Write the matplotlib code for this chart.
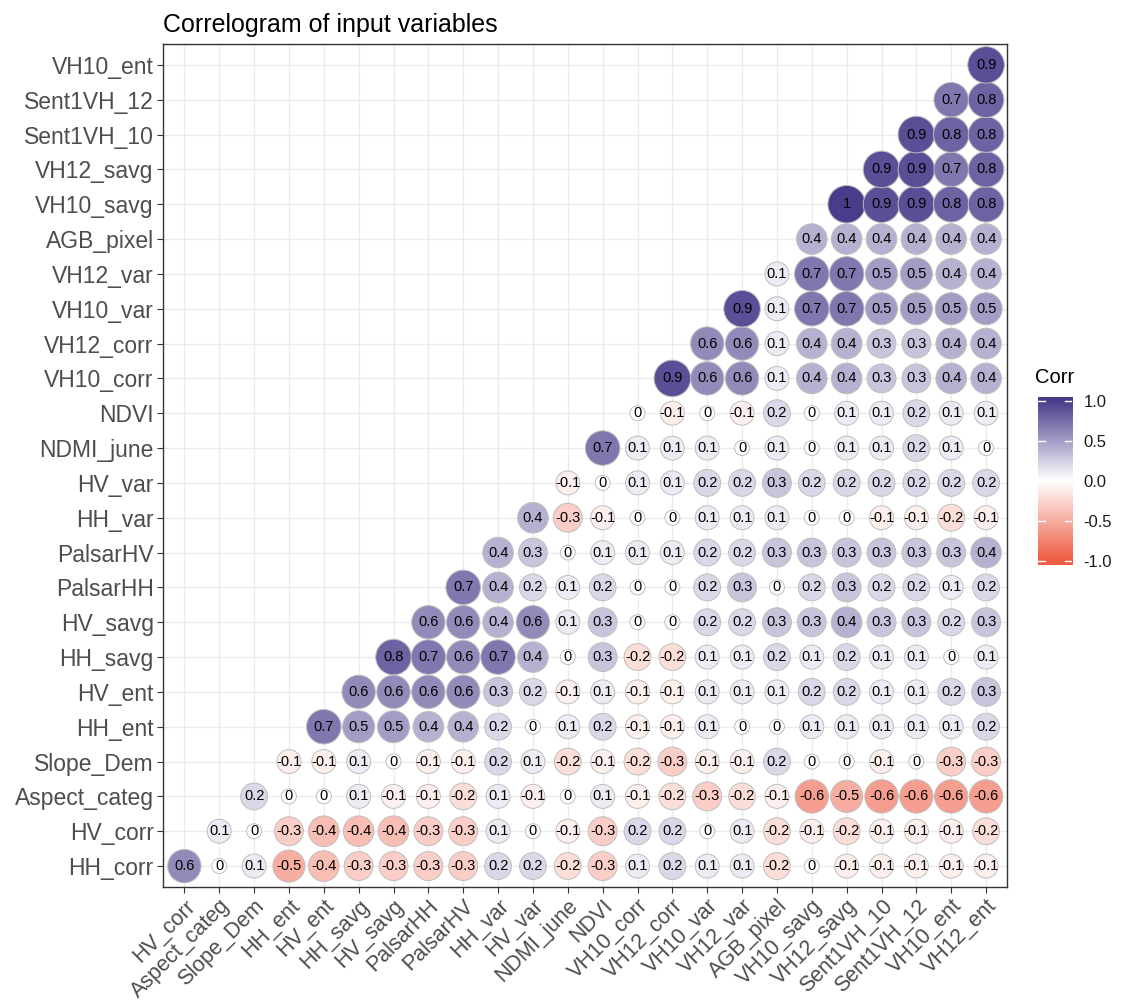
import matplotlib
matplotlib.use('Agg')
import matplotlib.pyplot as plt
from matplotlib.colors import LinearSegmentedColormap, Normalize
import numpy as np

plt.rcParams['font.family'] = ['Liberation Sans', 'DejaVu Sans']

# variable order used on both axes (x skips the first, y skips the last)
variables = ['HH_corr', 'HV_corr', 'Aspect_categ', 'Slope_Dem', 'HH_ent', 'HV_ent',
             'HH_savg', 'HV_savg', 'PalsarHH', 'PalsarHV', 'HH_var', 'HV_var',
             'NDMI_june', 'NDVI', 'VH10_corr', 'VH12_corr', 'VH10_var', 'VH12_var',
             'AGB_pixel', 'VH10_savg', 'VH12_savg', 'Sent1VH_10', 'Sent1VH_12',
             'VH10_ent', 'VH12_ent']

# rounded correlations, one list per variable: its values with every later variable
corr_rows = [
    [0.6, 0, 0.1, -0.5, -0.4, -0.3, -0.3, -0.3, -0.3, 0.2, 0.2, -0.2, -0.3, 0.1, 0.2, 0.1, 0.1, -0.2, 0, -0.1, -0.1, -0.1, -0.1, -0.1],
    [0.1, 0, -0.3, -0.4, -0.4, -0.4, -0.3, -0.3, 0.1, 0, -0.1, -0.3, 0.2, 0.2, 0, 0.1, -0.2, -0.1, -0.2, -0.1, -0.1, -0.1, -0.2],
    [0.2, 0, 0, 0.1, -0.1, -0.1, -0.2, 0.1, -0.1, 0, 0.1, -0.1, -0.2, -0.3, -0.2, -0.1, -0.6, -0.5, -0.6, -0.6, -0.6, -0.6],
    [-0.1, -0.1, 0.1, 0, -0.1, -0.1, 0.2, 0.1, -0.2, -0.1, -0.2, -0.3, -0.1, -0.1, 0.2, 0, 0, -0.1, 0, -0.3, -0.3],
    [0.7, 0.5, 0.5, 0.4, 0.4, 0.2, 0, 0.1, 0.2, -0.1, -0.1, 0.1, 0, 0, 0.1, 0.1, 0.1, 0.1, 0.1, 0.2],
    [0.6, 0.6, 0.6, 0.6, 0.3, 0.2, -0.1, 0.1, -0.1, -0.1, 0.1, 0.1, 0.1, 0.2, 0.2, 0.1, 0.1, 0.2, 0.3],
    [0.8, 0.7, 0.6, 0.7, 0.4, 0, 0.3, -0.2, -0.2, 0.1, 0.1, 0.2, 0.1, 0.2, 0.1, 0.1, 0, 0.1],
    [0.6, 0.6, 0.4, 0.6, 0.1, 0.3, 0, 0, 0.2, 0.2, 0.3, 0.3, 0.4, 0.3, 0.3, 0.2, 0.3],
    [0.7, 0.4, 0.2, 0.1, 0.2, 0, 0, 0.2, 0.3, 0, 0.2, 0.3, 0.2, 0.2, 0.1, 0.2],
    [0.4, 0.3, 0, 0.1, 0.1, 0.1, 0.2, 0.2, 0.3, 0.3, 0.3, 0.3, 0.3, 0.3, 0.4],
    [0.4, -0.3, -0.1, 0, 0, 0.1, 0.1, 0.1, 0, 0, -0.1, -0.1, -0.2, -0.1],
    [-0.1, 0, 0.1, 0.1, 0.2, 0.2, 0.3, 0.2, 0.2, 0.2, 0.2, 0.2, 0.2],
    [0.7, 0.1, 0.1, 0.1, 0, 0.1, 0, 0.1, 0.1, 0.2, 0.1, 0],
    [0, -0.1, 0, -0.1, 0.2, 0, 0.1, 0.1, 0.2, 0.1, 0.1],
    [0.9, 0.6, 0.6, 0.1, 0.4, 0.4, 0.3, 0.3, 0.4, 0.4],
    [0.6, 0.6, 0.1, 0.4, 0.4, 0.3, 0.3, 0.4, 0.4],
    [0.9, 0.1, 0.7, 0.7, 0.5, 0.5, 0.5, 0.5],
    [0.1, 0.7, 0.7, 0.5, 0.5, 0.4, 0.4],
    [0.4, 0.4, 0.4, 0.4, 0.4, 0.4],
    [1, 0.9, 0.9, 0.8, 0.8],
    [0.9, 0.9, 0.7, 0.8],
    [0.9, 0.8, 0.8],
    [0.7, 0.8],
    [0.9],
]

x_labels = variables[1:]
y_labels = variables[:-1]

# long format: x index, y index, value
xs, ys, vals = [], [], []
for i, row in enumerate(corr_rows):
    for k, v in enumerate(row):
        xs.append(i + k)
        ys.append(i)
        vals.append(v)
xs = np.array(xs)
ys = np.array(ys)
vals = np.array(vals, dtype=float)

cmap = LinearSegmentedColormap.from_list('corr', ['#EE5C42', '#FFFFFF', '#483D8B'])
norm = Normalize(-1, 1)

fig = plt.figure(figsize=(11.21, 10.07), dpi=100)
ax = fig.add_axes([0.1458, 0.1192, 0.7525, 0.8371])

n = len(x_labels)
ax.set_xlim(-0.6, n - 0.4)
ax.set_ylim(-0.6, n - 0.4)
ax.set_xticks(range(n))
ax.set_yticks(range(n))
ax.set_xticklabels(x_labels, rotation=45, ha='right', va='top', rotation_mode='anchor',
                   fontsize=15.5, color='#4D4D4D')
ax.set_yticklabels(y_labels, fontsize=16.5, color='#4D4D4D')
ax.tick_params(length=4, width=0.8, color='#333333', pad=3)
ax.tick_params(axis='x', pad=2)
ax.grid(True, color='#EBEBEB', linewidth=1)
ax.set_axisbelow(True)
for sp in ax.spines.values():
    sp.set_color('#333333')
    sp.set_linewidth(1)

# circle diameter grows with |r| (pixels -> points)
diam_px = 15 + 22.5 * np.abs(vals) ** 0.4
sizes = (diam_px * 0.72) ** 2
ax.scatter(xs, ys, s=sizes, c=vals, cmap=cmap, norm=norm,
           edgecolors='#BEBEBE', linewidths=0.7, zorder=3)

for x, y, v in zip(xs, ys, vals):
    txt = f'{v:g}' if v != 0 else '0'
    ax.text(x, y, txt, ha='center', va='center', fontsize=10.5, color='black', zorder=4)

ax.set_title('Correlogram of input variables', loc='left', fontsize=18, pad=9)

# colour bar legend
cax = fig.add_axes([0.926, 0.439, 0.0305, 0.167])
grad = np.linspace(-1.05, 1.05, 300).reshape(-1, 1)
cax.imshow(grad, cmap=cmap, norm=norm, aspect='auto', origin='lower',
           extent=[0, 1, -1.05, 1.05])
cax.set_xlim(0, 1)
cax.set_ylim(-1.05, 1.05)
cax.set_xticks([])
bar_ticks = [-1.0, -0.5, 0.0, 0.5, 1.0]
cax.yaxis.tick_right()
cax.set_yticks(bar_ticks)
cax.set_yticklabels([f'{t:.1f}' for t in bar_ticks], fontsize=12, color='#1A1A1A')
cax.tick_params(length=0, pad=8)
for t in bar_ticks:
    cax.plot([0, 0.2], [t, t], color='white', lw=1)
    cax.plot([0.8, 1], [t, t], color='white', lw=1)
for sp in cax.spines.values():
    sp.set_visible(False)
fig.text(0.923, 0.625, 'Corr', fontsize=14.5, ha='left', va='center')

plt.savefig('out.png', dpi=100, facecolor='white')
